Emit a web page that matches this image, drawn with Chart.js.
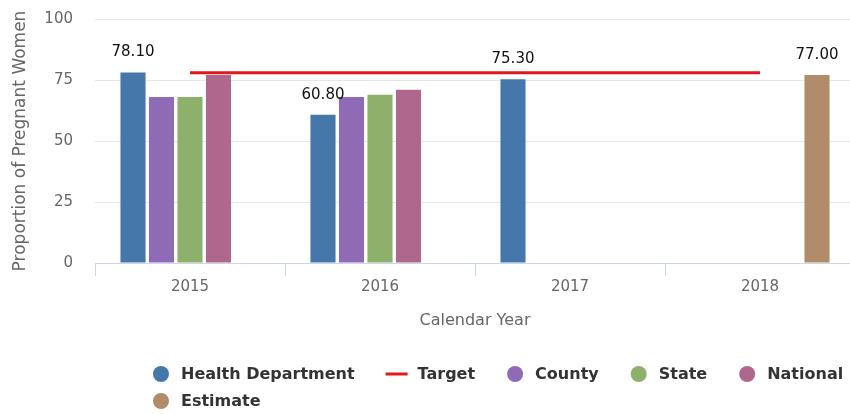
<!DOCTYPE html>
<html>
<head>
<meta charset="utf-8">
<script src="https://cdn.jsdelivr.net/npm/chart.js@4/dist/chart.umd.min.js"></script>
<style>
  html, body { margin: 0; padding: 0; background: #fff; overflow: hidden; }
  #wrap { width: 850px; height: 414px; position: relative; overflow: hidden; }
  #c { position: absolute; left: 0; top: -12px; }
</style>
</head>
<body>
<div id="wrap"><canvas id="c" width="860" height="426"></canvas></div>
<script>
// ---- data ----
const categories = ['2015', '2016', '2017', '2018'];
const healthDept = [78.1, 60.8, 75.3, null];
const target = [78, 78, 78, 78];
const county = [68, 68, null, null];
const state = [68, 69, null, null];
const national = [77, 71, null, null];
const estimate = [null, null, null, 77];
const yTicks = [0, 25, 50, 75, 100];

const colors = {
  hd: '#4677aa', target: '#e3171c', county: '#8f6bb5', state: '#8db06b',
  national: '#b0678e', estimate: '#b08c68'
};
const FAM = "'DejaVu Sans', sans-serif";
Chart.defaults.font.family = FAM;

const labelPlugin = {
  id: 'barLabels',
  afterDatasetsDraw(chart) {
    const ctx = chart.ctx;
    ctx.save();
    ctx.font = '15px ' + FAM;
    ctx.fillStyle = '#111';
    ctx.textAlign = 'center';
    ctx.textBaseline = 'middle';
    chart.data.datasets.forEach((ds, di) => {
      if (!ds.showValues) return;
      const meta = chart.getDatasetMeta(di);
      meta.data.forEach((el, i) => {
        const v = ds.data[i];
        if (v === null || v === undefined) return;
        ctx.fillText(v.toFixed(2), el.x, el.y - 20);
      });
    });
    ctx.restore();
  }
};

const legendPlugin = {
  id: 'customLegend',
  afterDraw(chart) {
    const ctx = chart.ctx;
    ctx.save();
    ctx.font = 'bold 16px ' + FAM;
    ctx.textBaseline = 'middle';
    const startX = 152, rowY = [386, 413], maxX = 856;
    let x = startX, row = 0;
    chart.data.datasets.forEach(ds => {
      const isLine = ds.type === 'line';
      const markW = isLine ? 32 : 29;
      const tw = ctx.measureText(ds.label).width;
      if (x + markW + tw > maxX) { row++; x = startX; }
      const y = rowY[row];
      if (isLine) {
        ctx.strokeStyle = ds.borderColor;
        ctx.lineWidth = 3;
        ctx.beginPath(); ctx.moveTo(x, y); ctx.lineTo(x + 22, y); ctx.stroke();
      } else {
        ctx.fillStyle = ds.backgroundColor;
        ctx.beginPath(); ctx.arc(x + 9, y, 8, 0, Math.PI * 2); ctx.fill();
      }
      ctx.fillStyle = '#333';
      ctx.fillText(ds.label, x + markW, y + 1);
      x += markW + tw + 31;
    });
    ctx.restore();
  }
};

const barDefaults = { categoryPercentage: 0.75, barPercentage: 0.88 };

new Chart(document.getElementById('c'), {
  data: {
    labels: categories,
    datasets: [
      { type: 'bar', label: 'Health Department', data: healthDept, backgroundColor: colors.hd, showValues: true, order: 2, ...barDefaults },
      { type: 'line', label: 'Target', data: target, borderColor: colors.target, backgroundColor: colors.target, borderWidth: 3, pointRadius: 0, order: 1 },
      { type: 'bar', label: 'County', data: county, backgroundColor: colors.county, order: 2, ...barDefaults },
      { type: 'bar', label: 'State', data: state, backgroundColor: colors.state, order: 2, ...barDefaults },
      { type: 'bar', label: 'National', data: national, backgroundColor: colors.national, order: 2, ...barDefaults },
      { type: 'bar', label: 'Estimate', data: estimate, backgroundColor: colors.estimate, showValues: true, order: 2, ...barDefaults }
    ]
  },
  options: {
    responsive: false,
    animation: false,
    layout: { padding: { top: 0, right: 5, bottom: 84, left: 0 } },
    plugins: { legend: { display: false }, tooltip: { enabled: false } },
    scales: {
      x: {
        offset: true,
        grid: { offset: true, drawOnChartArea: false, drawTicks: true, tickLength: 13, color: '#ccd6eb', lineWidth: 1 },
        border: { color: '#ccd6eb', width: 1 },
        ticks: { color: '#666', font: { family: FAM, size: 15 }, padding: 2, maxRotation: 0 },
        title: { display: true, text: 'Calendar Year', color: '#666', font: { family: FAM, size: 16 }, padding: { top: 8, bottom: 0 } },
        afterFit(s) { s.height = 67; }
      },
      y: {
        min: 0, max: 100,
        afterBuildTicks(s) { s.ticks = yTicks.map(v => ({ value: v })); },
        grid: { color: '#e6e6e6', drawTicks: false, lineWidth: 1 },
        border: { display: false },
        ticks: { color: '#666', font: { family: FAM, size: 15 }, padding: 22 },
        title: { display: true, text: 'Proportion of Pregnant Women', color: '#666', font: { family: FAM, size: 17 }, padding: { top: 10, bottom: 0 } },
        afterFit(s) { s.width = 95; }
      }
    }
  },
  plugins: [labelPlugin, legendPlugin]
});
</script>
</body>
</html>
